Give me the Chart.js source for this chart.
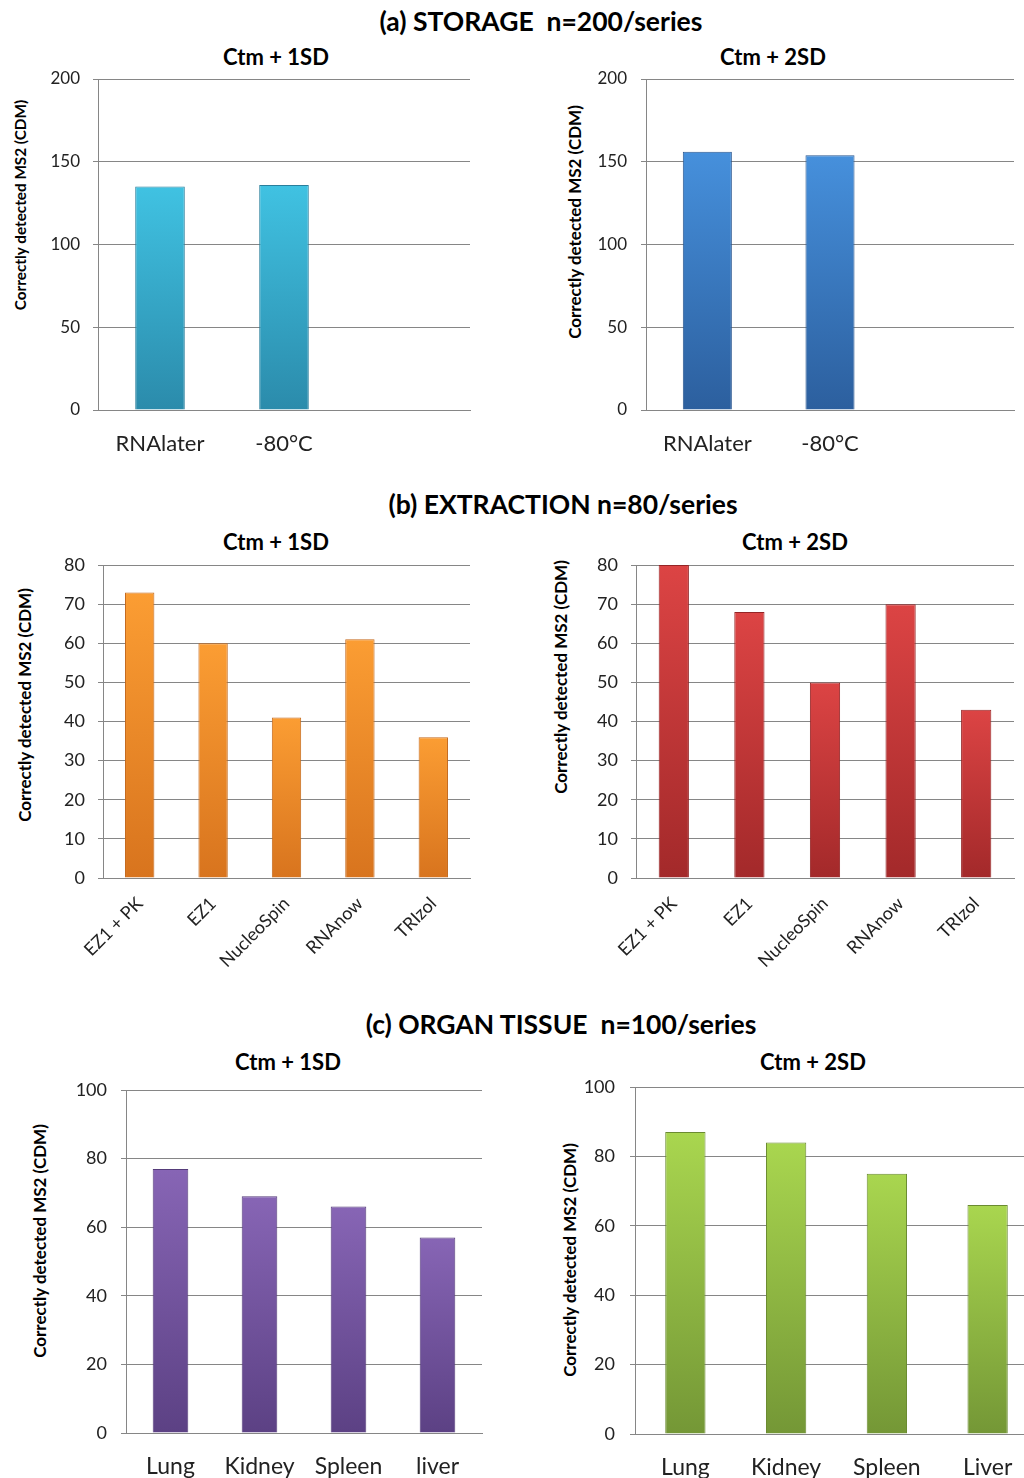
<!DOCTYPE html>
<html>
<head>
<meta charset="utf-8">
<script src="https://cdn.jsdelivr.net/npm/chart.js@4.4.0/dist/chart.umd.min.js"></script>
<style>
  html, body { margin: 0; padding: 0; background: #fff; overflow: hidden; }
  body { width: 1024px; height: 1478px; position: relative; font-family: Lato, sans-serif; color: #000; }
  .lbl { position: absolute; transform: translate(-50%, -50%); white-space: pre; font-weight: bold; }
  .head { font-size: 26.5px; }
  .sub { font-size: 22px; }
  .ytitle { position: absolute; transform: translate(-50%, -50%) rotate(-90deg); white-space: nowrap; font-weight: bold; font-size: 17px; }
  canvas { position: absolute; }
</style>
</head>
<body>
<div class="lbl head" style="left:541px;top:21px">(a) STORAGE  n=200/series</div>
<div class="lbl head" style="left:563px;top:504px">(b) EXTRACTION n=80/series</div>
<div class="lbl head" style="left:561px;top:1024px">(c) ORGAN TISSUE  n=100/series</div>

<div class="lbl sub" style="left:276px;top:56px">Ctm + 1SD</div>
<div class="lbl sub" style="left:773px;top:56px">Ctm + 2SD</div>
<div class="lbl sub" style="left:276px;top:541px">Ctm + 1SD</div>
<div class="lbl sub" style="left:795px;top:541px">Ctm + 2SD</div>
<div class="lbl sub" style="left:288px;top:1061px">Ctm + 1SD</div>
<div class="lbl sub" style="left:813px;top:1061px">Ctm + 2SD</div>

<div class="ytitle" style="left:20px;top:205px;font-size:15.3px">Correctly detected MS2 (CDM)</div>
<div class="ytitle" style="left:574px;top:222px">Correctly detected MS2 (CDM)</div>
<div class="ytitle" style="left:24px;top:705px">Correctly detected MS2 (CDM)</div>
<div class="ytitle" style="left:560px;top:677px">Correctly detected MS2 (CDM)</div>
<div class="ytitle" style="left:39px;top:1241px">Correctly detected MS2 (CDM)</div>
<div class="ytitle" style="left:569px;top:1260px">Correctly detected MS2 (CDM)</div>

<canvas id="a1"></canvas>
<canvas id="a2"></canvas>
<canvas id="b1"></canvas>
<canvas id="b2"></canvas>
<canvas id="c1"></canvas>
<canvas id="c2"></canvas>

<script>
// values
const storageLabels = ['RNAlater', '-80°C', ''];
const storage1SD = [135, 136, null];
const storage2SD = [156, 154, null];
const storageTicks = [0, 50, 100, 150, 200];

const extractionLabels = ['EZ1 + PK', 'EZ1', 'NucleoSpin', 'RNAnow', 'TRIzol'];
const extraction1SD = [73, 60, 41, 61, 36];
const extraction2SD = [80, 68, 50, 70, 43];
const extractionTicks = [0, 10, 20, 30, 40, 50, 60, 70, 80];

const organLabels1SD = ['Lung', 'Kidney', 'Spleen', 'liver'];
const organLabels2SD = ['Lung', 'Kidney', 'Spleen', 'Liver'];
const organ1SD = [77, 69, 66, 57];
const organ2SD = [87, 84, 75, 66];
const organTicks = [0, 20, 40, 60, 80, 100];

const GRID = '#868686';
const FONT = 'Lato, sans-serif';

// bar shading: light at the top of each bar, darker at the base
function barFill(topCol, botCol) {
    return function (ctx) {
        const chart = ctx.chart;
        const y = chart.scales.y;
        if (!y || ctx.raw == null) return topCol;
        const t = y.getPixelForValue(ctx.raw);
        const b = y.getPixelForValue(0);
        if (!isFinite(t) || !isFinite(b) || t === b) return topCol;
        const g = chart.ctx.createLinearGradient(0, t, 0, b);
        g.addColorStop(0, topCol);
        g.addColorStop(1, botCol);
        return g;
    };
}

function makeChart(id, box, labels, values, ticks, colors, xFont) {
    const cv = document.getElementById(id);
    cv.width = box.w;
    cv.height = box.h;
    cv.style.left = box.left + 'px';
    cv.style.top = box.top + 'px';

    new Chart(cv.getContext('2d'), {
        type: 'bar',
        data: {
            labels: labels,
            datasets: [{
                data: values,
                backgroundColor: barFill(colors[0], colors[1]),
                borderColor: colors[2],
                borderWidth: 1,
                barPercentage: 0.4,
                categoryPercentage: 1.0
            }]
        },
        options: {
            responsive: false,
            animation: false,
            layout: { padding: { top: 15, right: box.padRight, left: 0, bottom: 0 } },
            plugins: { legend: { display: false }, tooltip: { enabled: false } },
            scales: {
                x: {
                    grid: { display: false, drawTicks: false },
                    border: { display: true, color: GRID },
                    ticks: {
                        autoSkip: false,
                        color: '#222',
                        font: { family: FONT, size: xFont.size },
                        padding: xFont.padding,
                        minRotation: xFont.rot,
                        maxRotation: xFont.rot
                    },
                    afterFit: function (s) {
                        s.height = box.xh;
                        s.paddingLeft = 0;
                        s.paddingRight = 0;
                    }
                },
                y: {
                    min: ticks[0],
                    max: ticks[ticks.length - 1],
                    ticks: {
                        stepSize: ticks[1] - ticks[0],
                        color: '#222',
                        font: { family: FONT, size: box.yFont },
                        padding: box.yPad
                    },
                    grid: { color: GRID, tickLength: 5 },
                    border: { color: GRID },
                    afterFit: function (s) {
                        s.width = box.yw;
                        s.paddingTop = 0;
                        s.paddingBottom = 0;
                    }
                }
            }
        }
    });
}

const cyan = ['#40c2e2', '#2b8bab', '#2a7f9c'];
const blue = ['#4690dc', '#2c5f9e', '#2a5790'];
const orange = ['#fb9d33', '#d8741e', '#c4691c'];
const red = ['#dc4444', '#a3292a', '#952526'];
const purple = ['#8765b5', '#5c4184', '#553c7a'];
const green = ['#a9d64f', '#749736', '#6b8b31'];

makeChart('a1', { left: 0, top: 64, w: 480, h: 396, padRight: 10, yw: 98, xh: 50, yFont: 17, yPad: 13 },
    storageLabels, storage1SD, storageTicks, cyan, { size: 22, padding: 21, rot: 0 });
makeChart('a2', { left: 520, top: 64, w: 504, h: 396, padRight: 10, yw: 126, xh: 50, yFont: 17, yPad: 14 },
    storageLabels, storage2SD, storageTicks, blue, { size: 22, padding: 21, rot: 0 });

makeChart('b1', { left: 0, top: 550, w: 480, h: 428, padRight: 10, yw: 103, xh: 100, yFont: 18, yPad: 13 },
    extractionLabels, extraction1SD, extractionTicks, orange, { size: 18, padding: 15, rot: 45 });
makeChart('b2', { left: 520, top: 550, w: 504, h: 428, padRight: 10, yw: 116, xh: 100, yFont: 18, yPad: 13 },
    extractionLabels, extraction2SD, extractionTicks, red, { size: 18, padding: 15, rot: 45 });

makeChart('c1', { left: 0, top: 1075, w: 492, h: 403, padRight: 10, yw: 126, xh: 45, yFont: 18, yPad: 14 },
    organLabels1SD, organ1SD, organTicks, purple, { size: 23, padding: 20, rot: 0 });
makeChart('c2', { left: 520, top: 1072, w: 528, h: 406, padRight: 10, yw: 115, xh: 44, yFont: 18, yPad: 15 },
    organLabels2SD, organ2SD, organTicks, green, { size: 23, padding: 20, rot: 0 });
</script>
</body>
</html>
